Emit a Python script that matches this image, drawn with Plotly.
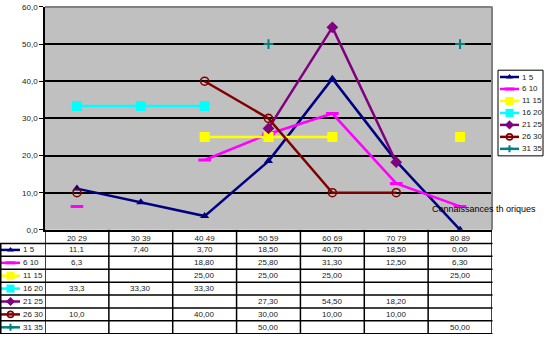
import plotly.graph_objects as go

# ---------------- data ----------------
categories = ["20 29", "30 39", "40 49", "50 59", "60 69", "70 79", "80 89"]
series_names = ["1 5", "6 10", "11 15", "16 20", "21 25", "26 30", "31 35"]
s1_5 = [11.1, 7.4, 3.7, 18.5, 40.7, 18.5, 0.0]
s6_10 = [6.3, None, 18.8, 25.8, 31.3, 12.5, 6.3]
s11_15 = [None, None, 25.0, 25.0, 25.0, None, 25.0]
s16_20 = [33.3, 33.3, 33.3, None, None, None, None]
s21_25 = [None, None, None, 27.3, 54.5, 18.2, None]
s26_30 = [10.0, None, 40.0, 30.0, 10.0, 10.0, None]
s31_35 = [None, None, None, 50.0, None, None, 50.0]
y_tick_values = [0, 10, 20, 30, 40, 50, 60]
x_title = "Connaissances th oriques"

series_values = [s1_5, s6_10, s11_15, s16_20, s21_25, s26_30, s31_35]

# ---------------- styles ----------------
colors = ["#000080", "#FF00FF", "#FFFF00", "#00FFFF", "#800080", "#800000", "#008080"]
symbols = ["triangle-up", "line-ew", "square", "square", "diamond", "circle-open", "cross-thin"]
msizes = [8, 9, 10, 10, 9, 8, 7]
mlinew = [0, 3, 0, 0, 0, 1.6, 2]

W, H = 545, 339
PX_L, PX_R, PX_T, PX_B = 45, 492, 3, 232
FONT = "Liberation Sans, Arial, sans-serif"
TXT = "#222222"

ROW0 = 246.0
ROWH = 13.25


def marker_for(i):
    m = dict(symbol=symbols[i], size=msizes[i], color=colors[i])
    if mlinew[i] > 0:
        m["line"] = dict(color=colors[i], width=mlinew[i])
    return m


def fmt(v, j):
    if v is None:
        return ""
    s = f"{v:.1f}" if j == 0 else f"{v:.2f}"
    return s.replace(".", ",")


fig = go.Figure()

# main series
for i, (name, vals) in enumerate(zip(series_names, series_values)):
    fig.add_trace(go.Scatter(
        x=list(range(len(categories))), y=vals, name=name,
        mode="lines+markers", connectgaps=False,
        line=dict(color=colors[i], width=2.5),
        marker=marker_for(i), showlegend=False,
        xaxis="x", yaxis="y",
    ))

annotations = []
shapes = []

# plot area background and border
shapes.append(dict(type="rect", xref="x domain", yref="y domain", x0=0, x1=1, y0=0, y1=1,
                   fillcolor="#C0C0C0", line=dict(width=0), layer="below"))
shapes.append(dict(type="line", xref="x2", yref="y2", x0=PX_L, x1=PX_R + 0.5, y0=PX_T, y1=PX_T,
                   line=dict(color="#808080", width=2), layer="above"))
shapes.append(dict(type="line", xref="x2", yref="y2", x0=PX_R, x1=PX_R, y0=PX_T, y1=PX_B,
                   line=dict(color="#808080", width=2), layer="above"))

# data table under the plot
n_rows = len(series_names)
bottom = ROW0 + ROWH * n_rows
for k in range(n_rows + 1):
    y = ROW0 + ROWH * k
    shapes.append(dict(type="line", xref="x2", yref="y2", x0=0, x1=PX_R + 0.5, y0=y, y1=y,
                       line=dict(color="black", width=1.5), layer="above"))
for j in range(len(categories) + 1):
    shapes.append(dict(type="line", xref="x", yref="y2", x0=j - 0.5, x1=j - 0.5,
                       y0=PX_B, y1=bottom, line=dict(color="black", width=1.5), layer="above"))
shapes.append(dict(type="line", xref="x2", yref="y2", x0=0.75, x1=0.75, y0=ROW0, y1=bottom,
                   line=dict(color="black", width=1.5), layer="above"))

for i, (name, vals) in enumerate(zip(series_names, series_values)):
    yc = ROW0 + ROWH * (i + 0.5)
    # legend key inside table
    fig.add_trace(go.Scatter(x=[1, 20], y=[yc, yc], mode="lines",
                             line=dict(color=colors[i], width=2.5), showlegend=False,
                             hoverinfo="skip", xaxis="x2", yaxis="y2"))
    m = marker_for(i)
    m["size"] = max(5, m["size"] - 2)
    fig.add_trace(go.Scatter(x=[10.5], y=[yc], mode="markers", marker=m, showlegend=False,
                             hoverinfo="skip", xaxis="x2", yaxis="y2"))
    annotations.append(dict(xref="x2", yref="y2", x=21, y=yc, text=name, showarrow=False,
                            xanchor="left", yanchor="middle",
                            font=dict(family=FONT, size=8, color=TXT)))
    for j, v in enumerate(vals):
        t = fmt(v, j)
        if t:
            annotations.append(dict(xref="x", yref="y2", x=j, y=yc, text=t, showarrow=False,
                                    xanchor="center", yanchor="middle",
                                    font=dict(family=FONT, size=8, color=TXT)))

# custom legend (right)
LG_L, LG_R, LG_T, LG_B = 498, 543, 68, 156
shapes.append(dict(type="rect", xref="x2", yref="y2", x0=LG_L, x1=LG_R, y0=LG_T, y1=LG_B,
                   line=dict(color="black", width=1), fillcolor="rgba(0,0,0,0)", layer="above"))
for i, name in enumerate(series_names):
    yc = 75 + 12.3 * i
    fig.add_trace(go.Scatter(x=[500, 519], y=[yc, yc], mode="lines",
                             line=dict(color=colors[i], width=2.5), showlegend=False,
                             hoverinfo="skip", xaxis="x2", yaxis="y2"))
    m = marker_for(i)
    m["size"] = max(5, m["size"] - 2)
    fig.add_trace(go.Scatter(x=[509.5], y=[yc], mode="markers", marker=m, showlegend=False,
                             hoverinfo="skip", xaxis="x2", yaxis="y2"))
    annotations.append(dict(xref="x2", yref="y2", x=520, y=yc, text=name, showarrow=False,
                            xanchor="left", yanchor="middle",
                            font=dict(family=FONT, size=8, color=TXT)))

# axis title
annotations.append(dict(xref="x2", yref="y2", x=430, y=211, text=x_title, showarrow=False,
                        xanchor="left", yanchor="middle",
                        font=dict(family=FONT, size=9, color="black")))

fig.update_layout(
    width=W, height=H, margin=dict(l=0, r=0, t=0, b=0),
    paper_bgcolor="white", plot_bgcolor="rgba(0,0,0,0)",
    separators=",.",
    font=dict(family=FONT, size=8, color=TXT),
    xaxis=dict(domain=[PX_L / W, PX_R / W], range=[-0.5, len(categories) - 0.5],
               tickvals=list(range(len(categories))), ticktext=categories,
               showgrid=False, zeroline=False, showline=True, linecolor="black", linewidth=1.5,
               ticks="", tickfont=dict(family=FONT, size=8, color=TXT), anchor="y",
               fixedrange=True),
    yaxis=dict(domain=[1 - PX_B / H, 1 - PX_T / H], range=[0, 60],
               tickvals=y_tick_values, tickformat=".1f", ticklabeloverflow="allow",
               showgrid=True, gridcolor="black", gridwidth=1.5, zeroline=False,
               showline=True, linecolor="black", linewidth=1.5,
               ticks="outside", ticklen=4, tickcolor="black", tickwidth=1,
               tickfont=dict(family=FONT, size=8, color=TXT), anchor="x", fixedrange=True),
    xaxis2=dict(domain=[0, 1], range=[0, W], visible=False, anchor="y2", fixedrange=True),
    yaxis2=dict(domain=[0, 1], range=[H, 0], visible=False, anchor="x2", fixedrange=True),
    shapes=shapes,
    annotations=annotations,
)

fig.write_html("out.html")
